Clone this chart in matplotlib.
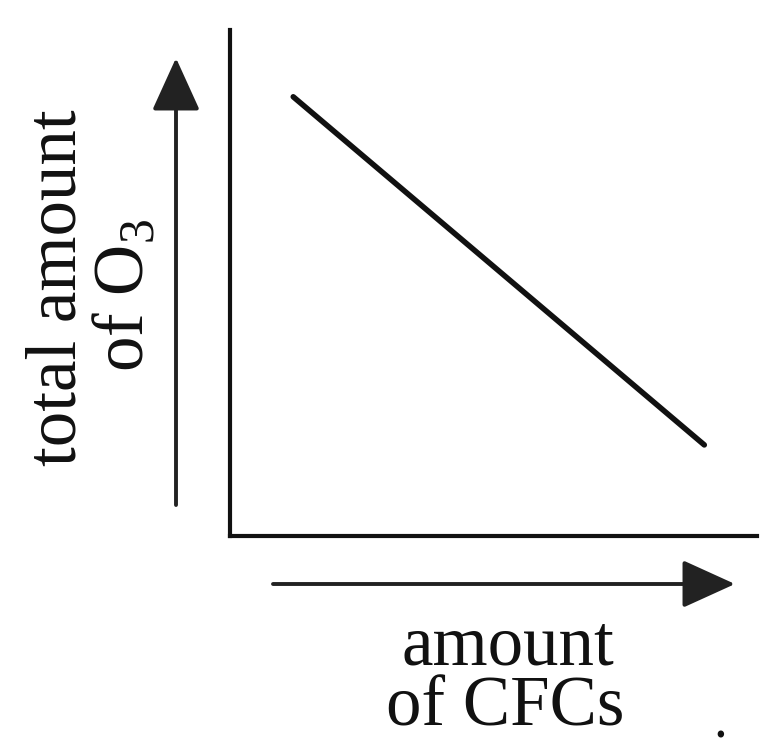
import matplotlib
matplotlib.use("Agg")
import matplotlib.pyplot as plt

# data (schematic relationship)
cfc_amount = [0.12, 0.90]
o3_total = [0.868, 0.18]
x_label_lines = ["amount", "of CFCs"]
y_label_lines = ["total amount", "of O$_3$"]

W, H = 763, 755
fig = plt.figure(figsize=(W / 100, H / 100), dpi=100)
plt.rcParams['font.family'] = ['Liberation Serif', 'DejaVu Serif']
plt.rcParams['mathtext.fontset'] = 'custom'
plt.rcParams['mathtext.rm'] = 'Liberation Serif'

def fx(px):
    return px / W

def fy(py):
    return 1 - py / H

ax = fig.add_axes([fx(230), fy(536), fx(757) - fx(230), fy(30) - fy(536)])
ax.set_xlim(0, 1)
ax.set_ylim(0, 1)
for s in ['top', 'right']:
    ax.spines[s].set_visible(False)
for s in ['left', 'bottom']:
    ax.spines[s].set_linewidth(3.0)
    ax.spines[s].set_color('#111111')
ax.set_xticks([])
ax.set_yticks([])

ax.plot(cfc_amount, o3_total, color='#111111', lw=4.0, solid_capstyle='round')

# arrows
arrow_kw = dict(arrowstyle='-|>,head_length=3.3,head_width=1.5', color='#222222', lw=2.8,
                shrinkA=0, shrinkB=0)
fig.add_artist(matplotlib.patches.FancyArrowPatch(
    (fx(176), fy(505)), (fx(176), fy(58)), transform=fig.transFigure,
    mutation_scale=10, **arrow_kw))
fig.add_artist(matplotlib.patches.FancyArrowPatch(
    (fx(273), fy(584)), (fx(735), fy(584)), transform=fig.transFigure,
    mutation_scale=10, **arrow_kw))

# labels
fig.text(fx(508), fy(647), x_label_lines[0], ha='center', va='center', fontsize=51, color='#111111')
fig.text(fx(505), fy(708), x_label_lines[1], ha='center', va='center', fontsize=51, color='#111111')
fig.text(fx(58), fy(288), y_label_lines[0], ha='center', va='center', rotation=90, fontsize=51, color='#111111')
fig.text(fx(124), fy(295), y_label_lines[1], ha='center', va='center', rotation=90, fontsize=51, color='#111111')

# stray dot
fig.text(fx(720), fy(724), '.', ha='center', va='center', fontsize=40, color='#111111')

fig.savefig('out.png', dpi=100)
